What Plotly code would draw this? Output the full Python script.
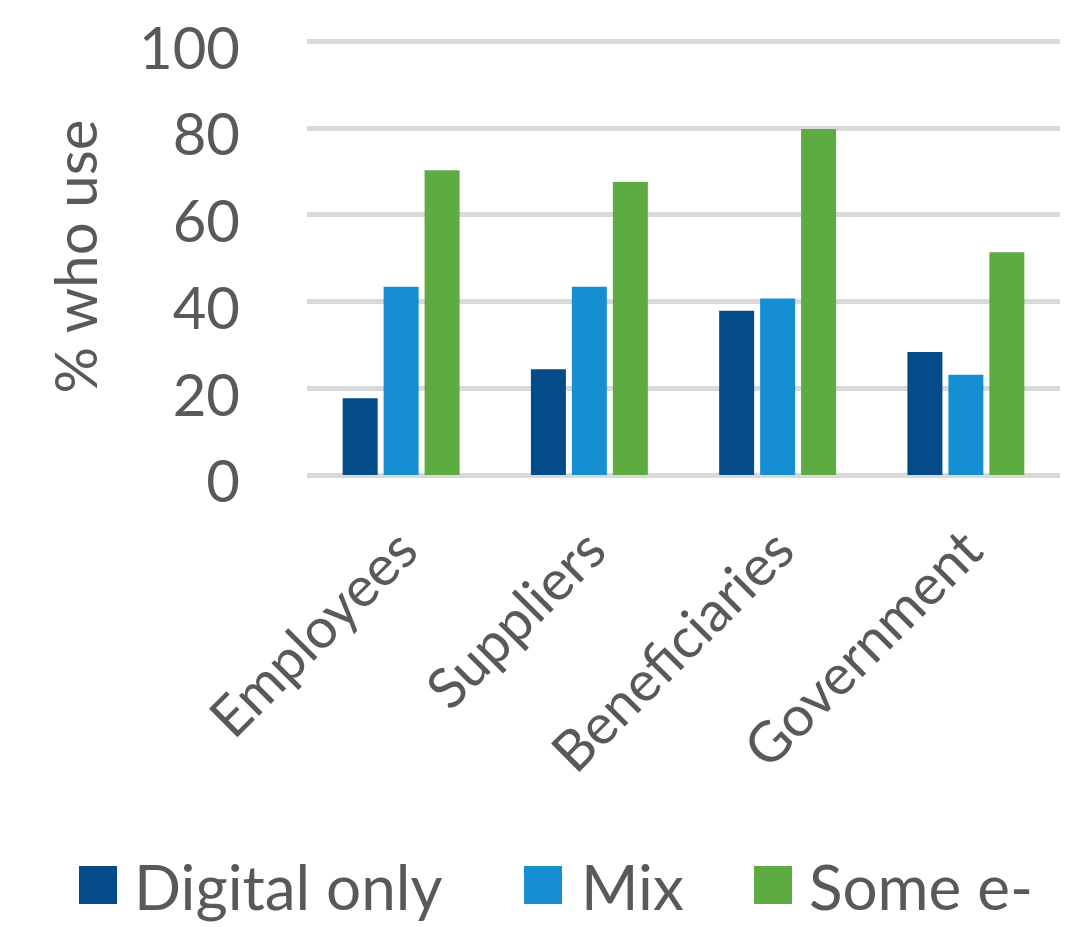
import plotly.graph_objects as go

categories = ["Employees", "Suppliers", "Beneficiaries", "Government"]
series_names = ["Digital only", "Mix", "Some e-"]
digital_only = [17.7, 24.4, 37.9, 28.4]
mix = [43.4, 43.4, 40.7, 23.1]
some_e = [70.3, 67.6, 79.8, 51.4]
colors = ["#034B89", "#168FD2", "#5EAB43"]
y_ticks = [0, 20, 40, 60, 80, 100]

FONT = "Lato"
TXT = "#595959"

W, H = 1070, 927
YMAX = 100.8
L, R, B = 307, 10, 452
px_per_unit = (474.7 - 41) / 100
T = int(round(474.7 - YMAX * px_per_unit))
pw = W - L - R
ph = H - T - B

fig = go.Figure()
for name, vals, col in zip(series_names, [digital_only, mix, some_e], colors):
    fig.add_trace(go.Bar(x=categories, y=vals, name=name, marker_color=col,
                         marker_line_width=0, showlegend=False))

fig.update_layout(
    width=W, height=H,
    margin=dict(l=L, r=R, t=T, b=B, pad=0, autoexpand=False),
    paper_bgcolor="white", plot_bgcolor="white",
    barmode="group", bargap=0.347, bargroupgap=0.146,
    font=dict(family=FONT, color=TXT, size=58),
)
fig.update_yaxes(
    range=[0, YMAX], tickvals=y_ticks, ticktext=[str(v) for v in y_ticks],
    showgrid=True, gridcolor="#D9D9D9", gridwidth=5,
    zeroline=True, zerolinecolor="#D9D9D9", zerolinewidth=5,
    showline=False, ticks="", ticklabelstandoff=66, ticklabelshift=7,
    ticklabeloverflow="allow", automargin=False,
    tickfont=dict(size=58, family=FONT, color=TXT),
    title=dict(text="% who use", standoff=22, font=dict(size=58, family=FONT, color=TXT)),
)
fig.update_xaxes(
    showgrid=False, showline=False, ticks="", tickangle=-45,
    ticklabelstandoff=30, automargin=False,
    tickfont=dict(size=56, family=FONT, color=TXT),
)

# manual legend (large square swatches)
leg_sq_px = [79, 524, 754]
leg_txt_px = [132, 579, 807]
sq_top, sq_bot = 866, 904
def px_x(p):
    return (p - L) / pw
def px_y(p):
    return (T + ph - p) / ph
for name, col, sx, tx in zip(series_names, colors, leg_sq_px, leg_txt_px):
    fig.add_shape(type="rect", xref="paper", yref="paper",
                  x0=px_x(sx), x1=px_x(sx + 38), y0=px_y(sq_bot), y1=px_y(sq_top),
                  fillcolor=col, line_width=0)
    fig.add_annotation(xref="paper", yref="paper", x=px_x(tx), y=px_y(886),
                       xanchor="left", yanchor="middle", showarrow=False,
                       text=name, font=dict(size=62, family=FONT, color=TXT))

fig.write_html("out.html")
